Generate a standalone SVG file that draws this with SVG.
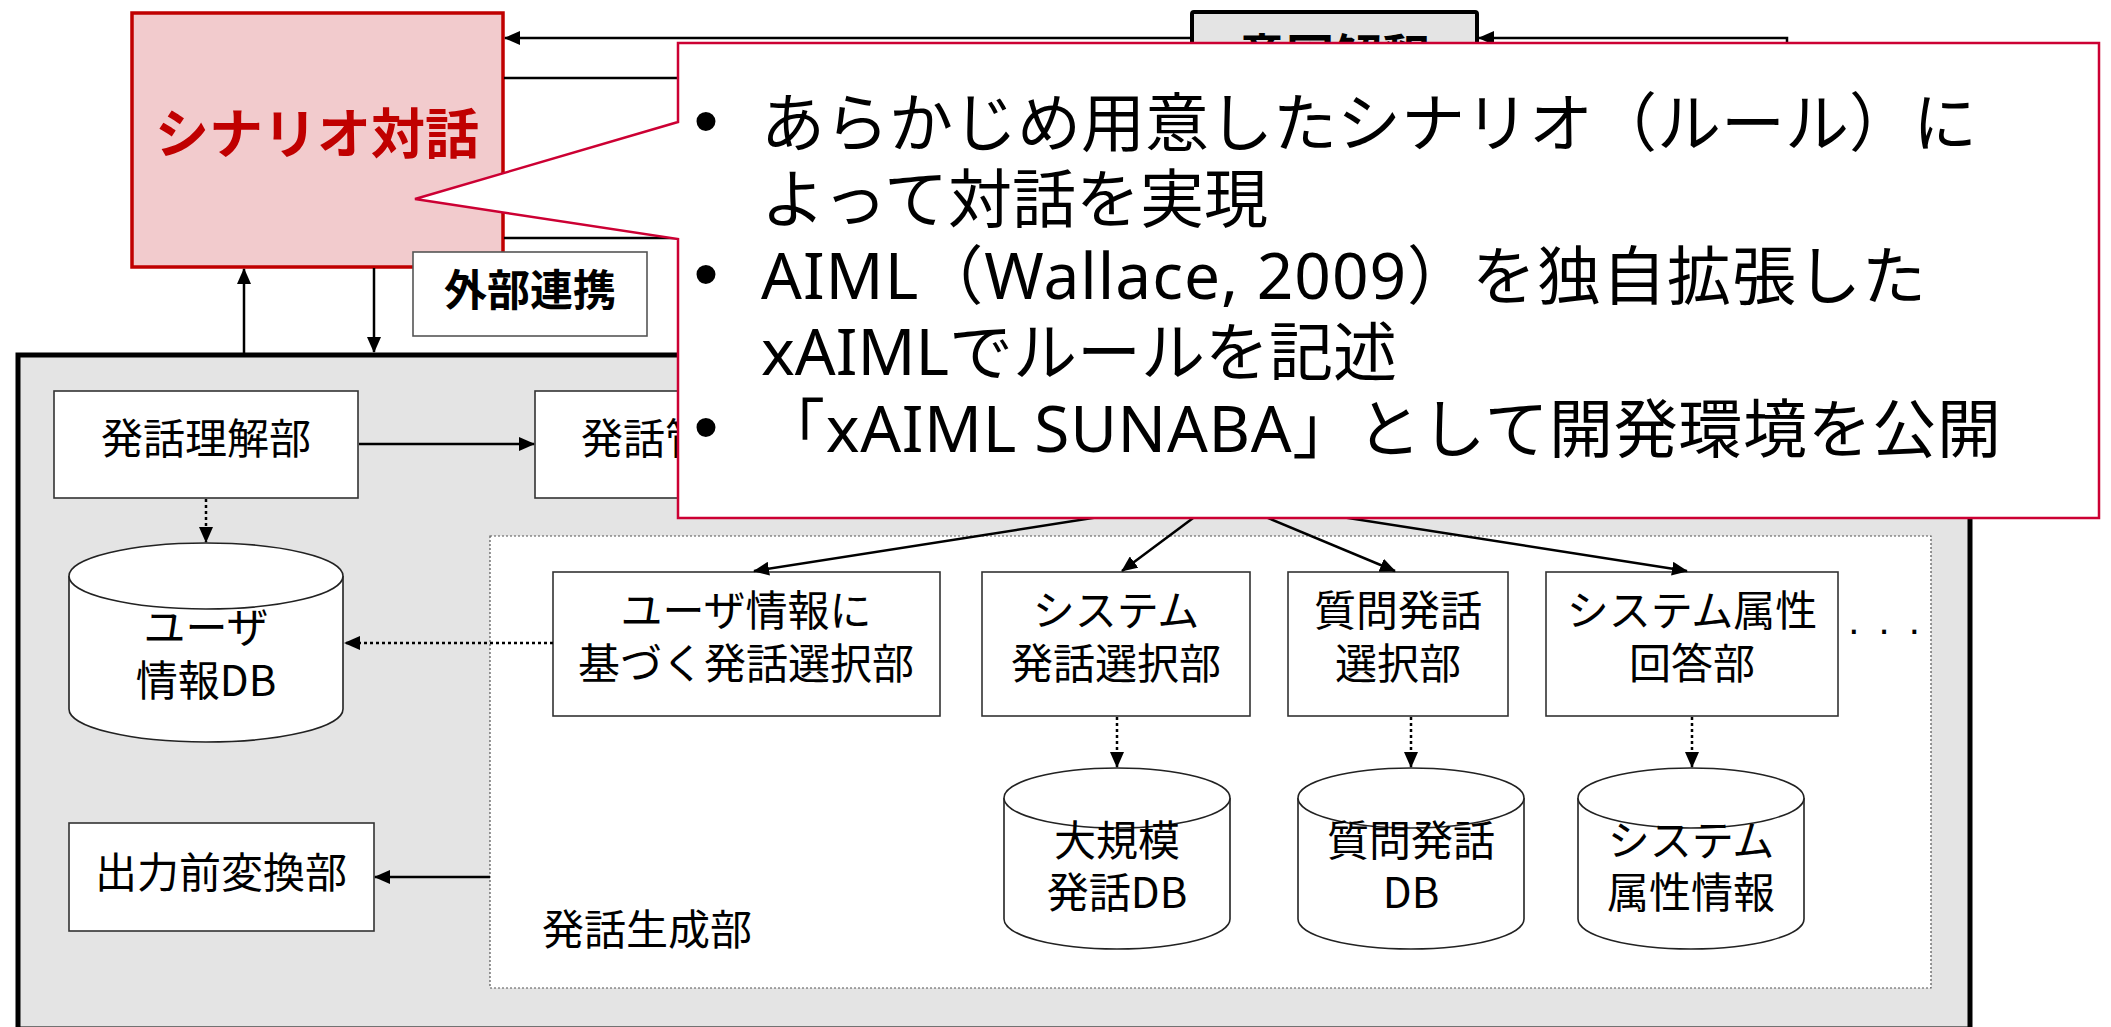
<svg xmlns="http://www.w3.org/2000/svg" width="2111" height="1027" viewBox="0 0 2111 1027">
<style>
.lbl{font-family:"Noto Sans CJK JP","Noto Sans",sans-serif;font-size:42px;fill:#000;text-anchor:middle}
.box{fill:#fff;stroke:#333;stroke-width:1.6}
.db{fill:#fff;stroke:#222;stroke-width:1.6}
.ln{stroke:#000;stroke-width:2.5;fill:none}
.dot{stroke:#000;stroke-width:2.5;fill:none;stroke-dasharray:3 3}
.co{font-family:"Noto Sans","Noto Sans CJK JP",sans-serif;font-size:64px;fill:#000}
.bul{font-family:"Liberation Sans",sans-serif;font-size:70px;fill:#000;text-anchor:middle}
</style>
<defs>
<marker id="ah" markerUnits="userSpaceOnUse" markerWidth="16" markerHeight="14" refX="15" refY="7" orient="auto">
<path d="M0,0 L16,7 L0,14 z" fill="#000"/>
</marker>
</defs>
<rect width="2111" height="1027" fill="#fff"/>

<g id="frame">
<rect x="18" y="355" width="1952" height="674" fill="#e4e4e4" stroke="#000" stroke-width="5"/>
</g>

<g id="intent">
<rect x="1192" y="12" width="285" height="110" rx="2" fill="#e4e4e4" stroke="#000" stroke-width="4"/>
<text x="1334" y="74" class="lbl" style="font-weight:bold;font-size:48px">意図解釈</text>
</g>

<g id="scenario">
<rect x="132" y="13" width="371" height="254" fill="#f2cbcd" stroke="#c00000" stroke-width="3.5"/>
<text x="317" y="154" class="lbl" style="font-weight:bold;font-size:54px;fill:#c00000">シナリオ対話</text>
</g>

<g id="external">
<rect x="413" y="252" width="234" height="84" fill="#fff" stroke="#555" stroke-width="1.6"/>
<text x="530" y="306" class="lbl" style="font-weight:bold;font-size:43px">外部連携</text>
</g>

<g id="gen-container">
<rect x="490" y="536" width="1441" height="452" fill="#fff" stroke="#555" stroke-width="1.2" stroke-dasharray="2 2"/>
<text x="542" y="945" class="lbl" style="text-anchor:start">発話生成部</text>
</g>

<g id="understanding">
<rect x="54" y="391" width="304" height="107" class="box"/>
<text x="206" y="454" class="lbl">発話理解部</text>
</g>

<g id="management">
<rect x="535" y="391" width="303" height="107" class="box"/>
<text x="686" y="454" class="lbl">発話管理部</text>
</g>

<g id="userdb">
<path d="M69,576 V709 A137,33 0 0 0 343,709 V576" class="db"/>
<ellipse cx="206" cy="576" rx="137" ry="33" class="db"/>
<text x="206" y="643" class="lbl">ユーザ</text>
<text x="206" y="696" class="lbl">情報DB</text>
</g>

<g id="output-conv">
<rect x="69" y="823" width="305" height="108" class="box"/>
<text x="221" y="888" class="lbl">出力前変換部</text>
</g>

<g id="sel-user">
<rect x="553" y="572" width="387" height="144" class="box"/>
<text x="746" y="626" class="lbl">ユーザ情報に</text>
<text x="746" y="679" class="lbl">基づく発話選択部</text>
</g>

<g id="sel-system">
<rect x="982" y="572" width="268" height="144" class="box"/>
<text x="1116" y="626" class="lbl">システム</text>
<text x="1116" y="679" class="lbl">発話選択部</text>
</g>

<g id="sel-question">
<rect x="1288" y="572" width="220" height="144" class="box"/>
<text x="1398" y="626" class="lbl">質問発話</text>
<text x="1398" y="679" class="lbl">選択部</text>
</g>

<g id="sel-attr">
<rect x="1546" y="572" width="292" height="144" class="box"/>
<text x="1692" y="626" class="lbl">システム属性</text>
<text x="1692" y="679" class="lbl">回答部</text>
</g>

<g id="ellipsis">
<text x="1886" y="634" class="lbl" style="font-family:'Liberation Sans',sans-serif;font-size:40px;letter-spacing:4px">. . .</text>
</g>

<g id="db-large">
<path d="M1004,798 V919 A113,30 0 0 0 1230,919 V798" class="db"/>
<ellipse cx="1117" cy="798" rx="113" ry="30" class="db"/>
<text x="1117" y="856" class="lbl">大規模</text>
<text x="1117" y="908" class="lbl">発話DB</text>
</g>

<g id="db-question">
<path d="M1298,798 V919 A113,30 0 0 0 1524,919 V798" class="db"/>
<ellipse cx="1411" cy="798" rx="113" ry="30" class="db"/>
<text x="1411" y="856" class="lbl">質問発話</text>
<text x="1411" y="908" class="lbl">DB</text>
</g>

<g id="db-attr">
<path d="M1578,798 V919 A113,30 0 0 0 1804,919 V798" class="db"/>
<ellipse cx="1691" cy="798" rx="113" ry="30" class="db"/>
<text x="1691" y="856" class="lbl">システム</text>
<text x="1691" y="908" class="lbl">属性情報</text>
</g>

<g id="connectors">
<line x1="1190" y1="38" x2="505" y2="38" class="ln" marker-end="url(#ah)"/>
<path d="M1787,300 V38 H1479" class="ln" marker-end="url(#ah)"/>
<line x1="504" y1="78" x2="1190" y2="78" class="ln"/>
<line x1="504" y1="238" x2="900" y2="238" class="ln"/>
<line x1="244" y1="353" x2="244" y2="269" class="ln" marker-end="url(#ah)"/>
<line x1="374" y1="268" x2="374" y2="352" class="ln" marker-end="url(#ah)"/>
<line x1="359" y1="444" x2="534" y2="444" class="ln" marker-end="url(#ah)"/>
<line x1="206" y1="499" x2="206" y2="542" class="dot" marker-end="url(#ah)"/>
<line x1="553" y1="643" x2="345" y2="643" class="dot" marker-end="url(#ah)"/>
<line x1="1220" y1="498" x2="754" y2="571" class="ln" marker-end="url(#ah)"/>
<line x1="1220" y1="498" x2="1122" y2="571" class="ln" marker-end="url(#ah)"/>
<line x1="1220" y1="498" x2="1395" y2="571" class="ln" marker-end="url(#ah)"/>
<line x1="1220" y1="498" x2="1687" y2="571" class="ln" marker-end="url(#ah)"/>
<line x1="1117" y1="717" x2="1117" y2="767" class="dot" marker-end="url(#ah)"/>
<line x1="1411" y1="717" x2="1411" y2="767" class="dot" marker-end="url(#ah)"/>
<line x1="1692" y1="717" x2="1692" y2="767" class="dot" marker-end="url(#ah)"/>
<line x1="490" y1="877" x2="375" y2="877" class="ln" marker-end="url(#ah)"/>
</g>

<g id="callout">
<path d="M678,43 H2099 V518 H678 V239 L415,199 L678,122 Z" fill="#fff" stroke="#cc0033" stroke-width="2.5"/>
<text x="706" y="145" class="bul">•</text>
<text x="761" y="146" class="co">あらかじめ用意したシナリオ（ルール）に</text>
<text x="761" y="222" class="co">よって対話を実現</text>
<text x="706" y="298" class="bul">•</text>
<text x="761" y="299" class="co" textLength="1165" lengthAdjust="spacing">AIML（Wallace, 2009）を独自拡張した</text>
<text x="761" y="375" class="co">xAIMLでルールを記述</text>
<text x="706" y="451" class="bul">•</text>
<text x="761" y="452" class="co" textLength="1240" lengthAdjust="spacing">「xAIML SUNABA」として開発環境を公開</text>
</g>
</svg>
